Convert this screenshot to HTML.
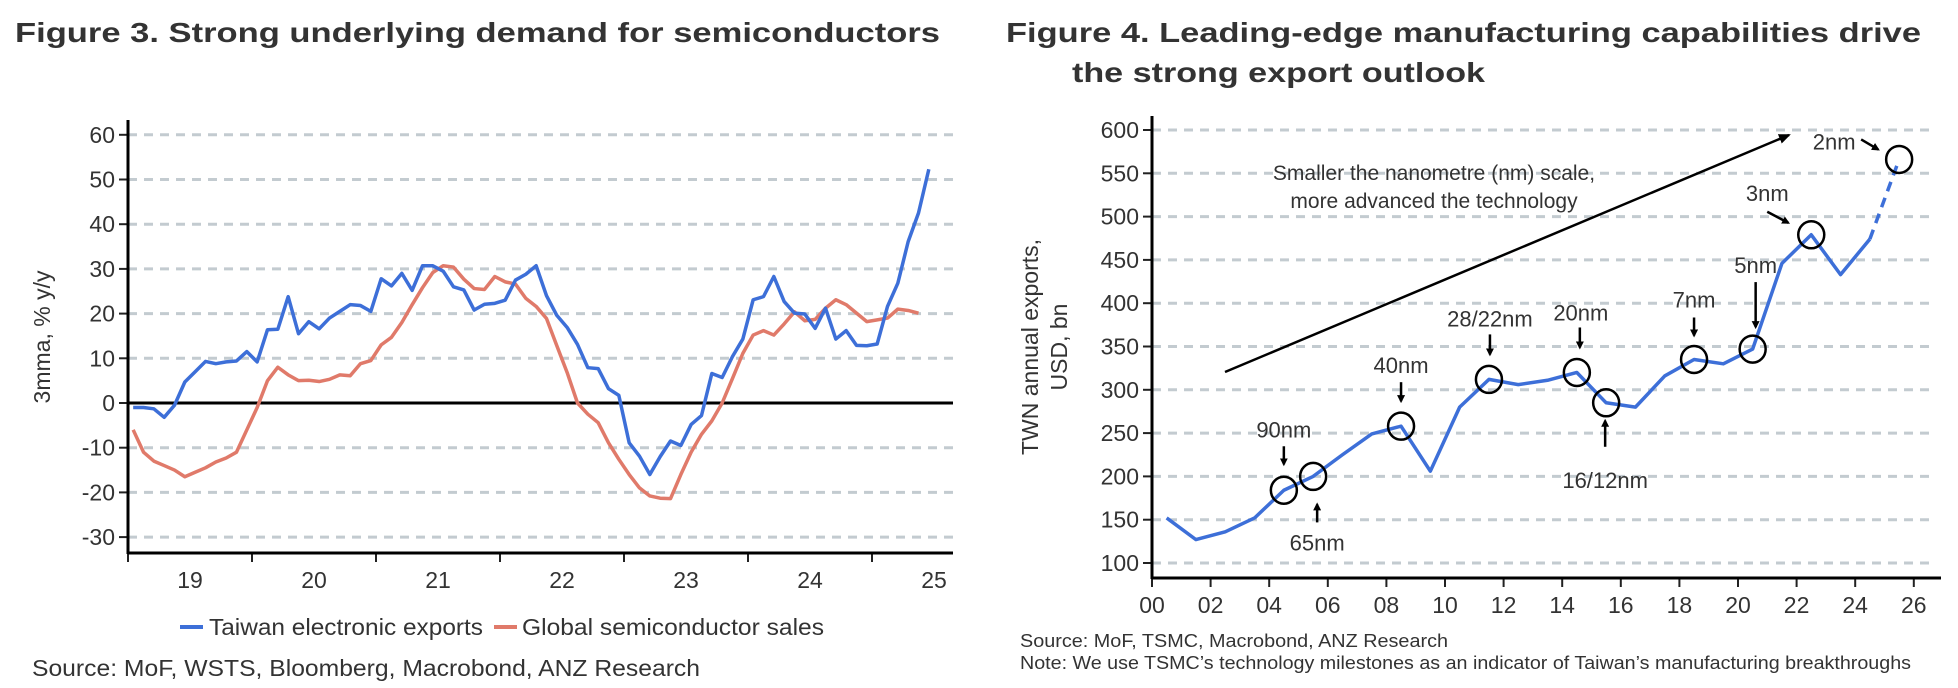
<!DOCTYPE html>
<html><head><meta charset="utf-8"><style>
body{margin:0;background:#fff}
svg{display:block;font-family:"Liberation Sans",Arial,sans-serif}
</style></head><body>
<svg id="s" width="1958" height="688" viewBox="0 0 1958 688">
<g fill="#333" font-weight="bold" font-size="28">
<text x="15" y="42" textLength="925" lengthAdjust="spacingAndGlyphs">Figure 3.  Strong underlying demand for semiconductors</text>
<text x="1006" y="42" textLength="915" lengthAdjust="spacingAndGlyphs">Figure 4.  Leading-edge manufacturing capabilities drive</text>
<text x="1072" y="82" textLength="413" lengthAdjust="spacingAndGlyphs">the strong export outlook</text>
</g>
<g id="left"></g>
<g id="right"></g>
<g fill="#333">
<text x="32" y="676" font-size="23" textLength="668" lengthAdjust="spacingAndGlyphs">Source: MoF, WSTS, Bloomberg, Macrobond, ANZ Research</text>
<text x="1020" y="647" font-size="18" textLength="428" lengthAdjust="spacingAndGlyphs">Source: MoF, TSMC, Macrobond, ANZ Research</text>
<text x="1020" y="669" font-size="18" textLength="891" lengthAdjust="spacingAndGlyphs">Note: We use TSMC’s technology milestones as an indicator of Taiwan’s manufacturing breakthroughs</text>
</g>
</svg>
<script>
// ---- Figure 3 data (monthly, Jan 2019 onward) ----
const leftYTicks = [60,50,40,30,20,10,0,-10,-20,-30];
const leftYears = ['19','20','21','22','23','24','25'];
const taiwanExports = [-1,-1,-1.3,-3.2,-0.5,4.7,7,9.3,8.8,9.2,9.4,11.5,9.2,16.4,16.5,23.8,15.5,18.2,16.6,19,20.5,22,21.8,20.5,27.8,26.2,29,25.2,30.7,30.7,29.5,26,25.3,20.8,22.1,22.3,23,27.5,28.8,30.7,24,19.6,16.9,13.1,7.9,7.7,3.2,1.7,-8.9,-11.9,-16,-12,-8.5,-9.5,-4.8,-2.8,6.6,5.7,10.4,14.3,23.1,23.8,28.3,22.7,20.1,19.9,16.7,21.2,14.3,16.2,12.9,12.8,13.2,21.6,26.8,36.1,42.5,52.3];
const globalSemis = [-6,-11,-13,-14,-15,-16.5,-15.5,-14.5,-13.2,-12.3,-11,-6,-1,5,8,6.3,5,5.1,4.8,5.3,6.3,6.1,8.8,9.5,13,14.7,18,22,25.8,29.2,30.7,30.4,27.7,25.6,25.4,28.3,27.1,26.6,23.4,21.6,18.9,12.8,6.8,0,-2.5,-4.4,-8.9,-12.6,-16,-19,-20.8,-21.3,-21.4,-16,-11,-7,-4,0,5.5,11.1,15.2,16.2,15.2,17.7,20.4,18.4,18.7,21.2,23.1,22,20.1,18.2,18.6,19,21,20.7,20.1];
// ---- Figure 4 data (annual) ----
const rightYTicks = [600,550,500,450,400,350,300,250,200,150,100];
const rightXTicks = ['00','02','04','06','08','10','12','14','16','18','20','22','24','26'];
const exportYears = [2000,2001,2002,2003,2004,2005,2006,2007,2008,2009,2010,2011,2012,2013,2014,2015,2016,2017,2018,2019,2020,2021,2022,2023,2024];
const exportValues = [152,127,136,152,184,200,225,249,258,206,280,312,306,311,320,285,280,316,335,330,347,446,479,433,474];
const forecastYears = [2024,2025];
const forecastValues = [474,566];
const nodeLabels = ['90nm','65nm','40nm','28/22nm','20nm','16/12nm','7nm','5nm','3nm','2nm'];
const nodeYears = [2004,2005,2008,2011,2014,2015,2018,2020,2022,2025];
const nodeValues = [184,200,258,312,320,285,335,347,479,566];

const NS='http://www.w3.org/2000/svg';
function mk(parent,tag,attrs,text){const e=document.createElementNS(NS,tag);for(const k in attrs)e.setAttribute(k,attrs[k]);if(text!==undefined)e.textContent=text;parent.appendChild(e);return e;}

// ---------- Left chart ----------
const L=document.getElementById('left');
const lx0=128,lx1=953,monthW=124/12;
const ly=v=>403-v*4.47;
const lxm=i=>lx0+(i+0.5)*monthW;
leftYTicks.forEach(v=>{
  if(v!==0){const g=mk(L,'line',{x1:lx0,x2:lx1,y1:ly(v),y2:ly(v),stroke:'#c3cbd0','stroke-width':3,'stroke-dasharray':'9 7'});
  }
  const t=mk(L,'line',{x1:lx0-9,x2:lx0,y1:ly(v),y2:ly(v),stroke:'#222','stroke-width':2});
  
  const l=mk(L,'text',{x:115,y:ly(v)+8,'text-anchor':'end','font-size':23,fill:'#333'},String(v));
  
});
leftYears.forEach((y,i)=>{
  const xt=lx0+i*124;
  const t=mk(L,'line',{x1:xt,x2:xt,y1:553,y2:562,stroke:'#222','stroke-width':2});
  
  const l=mk(L,'text',{x:xt+62,y:588,'text-anchor':'middle','font-size':23,fill:'#333'},y);
  
});
let zl=mk(L,'line',{x1:lx0,x2:lx1,y1:ly(0),y2:ly(0),stroke:'#000','stroke-width':3});

let ya=mk(L,'line',{x1:lx0,x2:lx0,y1:120,y2:554,stroke:'#000','stroke-width':3});

let xa=mk(L,'line',{x1:lx0,x2:lx1,y1:553,y2:553,stroke:'#000','stroke-width':3});

let yt=mk(L,'text',{transform:'translate(50,337) rotate(-90)','text-anchor':'middle','font-size':23,fill:'#333'},'3mma, % y/y');

let p1=mk(L,'polyline',{points:globalSemis.map((v,i)=>lxm(i)+','+ly(v)).join(' '),fill:'none',stroke:'#e07a6a','stroke-width':3.5,'stroke-linejoin':'round'});

let p2=mk(L,'polyline',{points:taiwanExports.map((v,i)=>lxm(i)+','+ly(v)).join(' '),fill:'none',stroke:'#3d6fd8','stroke-width':3.5,'stroke-linejoin':'round'});

// legend
let s1=mk(L,'line',{x1:180,x2:203,y1:627,y2:627,stroke:'#3d6fd8','stroke-width':4});

let t1=mk(L,'text',{x:209,y:635,'font-size':23,fill:'#333',textLength:274,lengthAdjust:'spacingAndGlyphs'},'Taiwan electronic exports');

let s2=mk(L,'line',{x1:494,x2:517,y1:627,y2:627,stroke:'#e07a6a','stroke-width':4});

let t2=mk(L,'text',{x:522,y:635,'font-size':23,fill:'#333',textLength:302,lengthAdjust:'spacingAndGlyphs'},'Global semiconductor sales');


// ---------- Right chart ----------
const R=document.getElementById('right');
const rx0=1152,rx1=1941,yrW=29.3;
const rx=y=>rx0+(y-2000+0.5)*yrW;
const ry=v=>563-(v-100)*0.866;
rightYTicks.forEach(v=>{
  const g=mk(R,'line',{x1:rx0,x2:1935,y1:ry(v),y2:ry(v),stroke:'#c3cbd0','stroke-width':3,'stroke-dasharray':'9 7'});
  
  const t=mk(R,'line',{x1:rx0-9,x2:rx0,y1:ry(v),y2:ry(v),stroke:'#222','stroke-width':2});
  
  const l=mk(R,'text',{x:1139,y:ry(v)+8,'text-anchor':'end','font-size':23,fill:'#333'},String(v));
  
});
rightXTicks.forEach((s,i)=>{
  const xt=rx0+i*2*yrW;
  const t=mk(R,'line',{x1:xt,x2:xt,y1:578,y2:587,stroke:'#222','stroke-width':2});
  
  const l=mk(R,'text',{x:xt,y:613,'text-anchor':'middle','font-size':23,fill:'#333'},s);
  
});
let rya=mk(R,'line',{x1:rx0,x2:rx0,y1:116,y2:579,stroke:'#000','stroke-width':3});

let rxa=mk(R,'line',{x1:rx0,x2:rx1,y1:578,y2:578,stroke:'#000','stroke-width':3});

let ry1=mk(R,'text',{transform:'translate(1038,347) rotate(-90)','text-anchor':'middle','font-size':23,fill:'#333'},'TWN annual exports,');

let ry2=mk(R,'text',{transform:'translate(1067,347) rotate(-90)','text-anchor':'middle','font-size':23,fill:'#333'},'USD, bn');

mk(R,'defs',{}).innerHTML='<marker id="ah" markerWidth="8" markerHeight="8" refX="6" refY="4" orient="auto" markerUnits="userSpaceOnUse"><path d="M0,0 L8,4 L0,8 z" fill="#000"/></marker><marker id="ah2" markerWidth="12" markerHeight="10" refX="10" refY="5" orient="auto" markerUnits="userSpaceOnUse"><path d="M0,0 L12,5 L0,10 z" fill="#000"/></marker>';
let tr=mk(R,'line',{x1:1225,y1:372,x2:1789,y2:135,stroke:'#000','stroke-width':2.5,'marker-end':'url(#ah2)'});

let a1=mk(R,'text',{x:1434,y:180,'text-anchor':'middle','font-size':21,fill:'#333'},'Smaller the nanometre (nm) scale,');

let a2=mk(R,'text',{x:1434,y:208,'text-anchor':'middle','font-size':21,fill:'#333'},'more advanced the technology');

let rl=mk(R,'polyline',{points:exportValues.map((v,i)=>rx(exportYears[i])+','+ry(v)).join(' '),fill:'none',stroke:'#3d6fd8','stroke-width':3.5,'stroke-linejoin':'round'});

let rf=mk(R,'polyline',{points:forecastValues.map((v,i)=>rx(forecastYears[i])+','+ry(v)).join(' '),fill:'none',stroke:'#3d6fd8','stroke-width':3.5,'stroke-dasharray':'10 7'});

// label offset [dx,dy] to text centre, arrow [x1,y1,x2,y2] relative to circle centre
const lab=[[0,-61,0,-44,0,-26],[4,66,4,46,4,28],[0,-61,0,-44,0,-25],[1,-61,1,-45,1,-25],[4,-60,3,-45,3,-25],[-1,77,-1,44,-1,18],[0,-60,0,-42,0,-24],[3,-84,3,-67,3,-22],[-44,-42,-44,-23,-23,-12],[-65,-18,-38,-20,-21,-10]];
nodeLabels.forEach((n,i)=>{
  const cx=rx(nodeYears[i]),cy=ry(nodeValues[i]),o=lab[i];
  const c=mk(R,'ellipse',{cx:cx,cy:cy,rx:13,ry:13.5,fill:'none',stroke:'#000','stroke-width':2.5});
  
  const t=mk(R,'text',{x:cx+o[0],y:cy+o[1]+8,'text-anchor':'middle','font-size':22,fill:'#333'},n);
  
  const a=mk(R,'line',{x1:cx+o[2],y1:cy+o[3],x2:cx+o[4],y2:cy+o[5],stroke:'#000','stroke-width':2.5,'marker-end':'url(#ah)'});
  
});
</script>
</body></html>
